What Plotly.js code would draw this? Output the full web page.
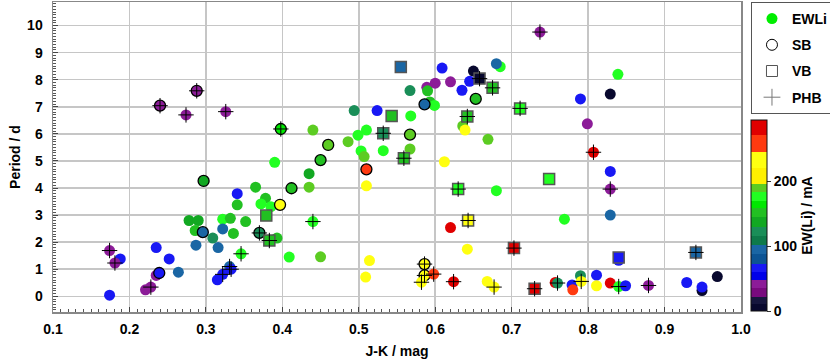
<!DOCTYPE html>
<html>
<head>
<meta charset="utf-8">
<script src="https://cdn.plot.ly/plotly-3.0.1.min.js"></script>
<style>html,body{margin:0;padding:0;background:#fff}#chart{width:830px;height:363px}</style>
</head>
<body>
<div id="chart"></div>
<script>
// ---- data ----
const jk = [0.240,0.274,0.288,0.326,0.398,0.390,0.297,0.555,0.609,0.650,0.685,0.680,0.658,0.645,0.620,0.600,0.589,0.590,0.675,0.635,0.567,0.653,0.593,0.599,0.586,0.711,0.494,0.524,0.543,0.568,0.642,0.636,0.639,0.440,0.532,0.567,0.510,0.499,0.486,0.460,0.669,0.503,0.532,0.567,0.507,0.559,0.450,0.612,0.435,0.510,0.737,0.839,0.829,0.790,0.799,0.807,0.829,0.749,0.341,0.365,0.412,0.378,0.372,0.385,0.341,0.397,0.379,0.322,0.332,0.278,0.290,0.352,0.286,0.296,0.322,0.336,0.370,0.309,0.383,0.393,0.287,0.316,0.235,0.346,0.409,0.174,0.188,0.181,0.252,0.264,0.235,0.239,0.331,0.333,0.322,0.315,0.228,0.221,0.174,0.435,0.510,0.630,0.680,0.643,0.440,0.620,0.642,0.703,0.450,0.514,0.586,0.509,0.586,0.598,0.582,0.624,0.668,0.677,0.829,0.829,0.769,0.941,0.840,0.840,0.730,0.757,0.760,0.779,0.780,0.790,0.791,0.811,0.811,0.829,0.840,0.849,0.879,0.929,0.949,0.949,0.969];
const period = [7.04,6.70,7.59,6.82,6.18,4.95,4.26,8.47,8.43,8.32,8.48,8.59,8.04,7.94,7.92,7.87,7.72,7.59,7.70,7.61,7.60,7.29,7.18,7.05,7.09,6.94,6.86,6.86,6.66,6.66,6.64,6.29,6.14,6.14,6.02,5.97,6.14,5.95,5.71,5.59,5.80,5.37,5.38,5.44,5.16,5.10,5.03,4.97,4.53,4.69,9.76,8.20,7.47,7.29,6.37,5.32,4.61,4.33,3.79,4.03,3.99,3.62,3.41,3.31,3.38,3.38,2.98,2.85,2.88,2.80,2.80,2.76,2.43,2.37,2.49,2.32,2.34,2.15,2.06,2.15,1.89,1.80,1.80,1.57,1.45,1.69,1.38,1.23,1.38,0.89,0.77,0.86,1.10,1.00,0.81,0.61,0.34,0.24,0.04,4.03,4.08,3.96,3.90,2.80,2.76,2.54,1.74,1.78,1.46,1.32,1.19,0.71,0.77,0.82,0.52,0.54,0.55,0.34,3.96,3.00,2.85,1.62,1.33,1.43,0.28,0.51,0.49,0.42,0.24,0.76,0.55,0.78,0.39,0.49,0.36,0.39,0.40,0.51,0.21,0.34,0.73];
const ewLi = [35,35,35,35,165,170,140,88,60,10,170,88,10,60,35,35,35,145,145,60,115,145,145,170,88,170,115,60,145,170,150,190,222,190,115,190,170,170,190,190,190,170,170,190,190,145,145,222,132,258,35,170,10,60,35,282,60,170,60,145,145,150,170,170,145,222,145,170,145,130,130,145,145,88,88,145,115,115,145,145,88,88,60,170,170,35,60,35,60,88,35,60,88,60,60,60,35,35,60,190,222,170,170,222,170,282,222,282,190,222,222,222,222,258,222,282,222,222,35,88,170,88,60,60,282,282,115,60,258,115,222,60,222,282,170,60,35,60,10,60,10];
const isSB  = [1,0,1,0,1,0,1,0,0,0,0,0,0,0,0,0,0,0,0,0,0,1,0,0,1,0,0,0,0,0,0,0,0,0,0,1,0,0,0,1,0,0,0,0,0,0,1,0,0,1,0,0,0,0,0,0,0,0,0,0,1,0,0,0,0,1,0,0,0,0,0,0,0,1,0,0,1,0,0,0,0,0,0,0,0,0,0,0,0,0,0,1,0,0,0,0,0,0,0,0,0,0,0,0,0,0,0,0,0,0,1,0,1,0,0,0,0,0,0,0,0,0,0,0,0,0,0,0,0,0,0,0,0,0,0,0,0,0,0,0,0];
const isVB  = [0,0,0,0,0,0,0,1,0,0,0,0,1,0,0,0,0,0,1,0,0,0,0,0,0,1,0,0,1,0,1,0,0,0,1,0,0,0,0,0,0,0,0,0,0,1,0,0,0,0,0,0,0,0,0,0,0,1,0,0,0,0,0,0,0,0,1,0,0,0,0,0,0,0,0,0,0,0,1,0,0,0,0,0,0,0,0,0,0,0,0,0,0,0,0,0,0,0,0,0,0,1,0,1,0,0,0,1,0,0,0,0,0,0,0,0,0,0,0,0,0,1,0,1,1,0,0,0,0,0,0,0,0,0,0,0,0,0,0,0,0];
const isPHB = [1,1,1,1,1,0,0,0,0,0,0,0,1,0,0,0,0,0,1,0,0,0,0,0,0,1,0,0,0,0,1,0,0,0,1,0,0,0,0,0,0,0,0,0,0,1,0,0,0,0,1,0,0,0,0,1,0,0,0,0,0,0,0,0,0,0,0,0,0,0,0,0,0,0,0,0,1,0,1,0,0,0,0,1,0,1,0,1,0,0,0,0,1,1,1,0,1,0,0,0,0,1,0,1,1,0,0,1,0,0,1,0,1,1,1,1,0,1,1,0,0,1,0,0,1,0,1,0,0,0,1,0,0,0,1,0,1,0,0,0,0];

// colour bar bands (EW(Li) / mA)
const bandEdges  = [0,11,22,35,48,60,73,87,101,115,130,144,158,170,183,196,220,245,271,294];
const bandColors = ['#08082e','#16163e','#780a7e','#8c1c98','#0000e8','#1818f4','#0c5494','#1a66a4','#0e7a4a','#1a8e58','#12a822','#22c022','#00e800','#22ff22','#5ccc22','#fff000','#ffff10','#ff3a10','#e00000'];
const cbTicks = [0,100,200];

// ---- build ----
const cmax = bandEdges[bandEdges.length-1];
const colorscale = [];
for (let i = 0; i < bandColors.length; i++) {
  colorscale.push([bandEdges[i]/cmax, bandColors[i]]);
  colorscale.push([bandEdges[i+1]/cmax, bandColors[i]]);
}
const pick = (arr, cond) => arr.filter((_, i) => cond(i));
const circ = i => !isVB[i], sq = i => isVB[i], plus = i => isPHB[i];

const FONT = 'Liberation Sans, Arial, sans-serif';
const traces = [
  {
    type: 'scatter', mode: 'markers', showlegend: false, hoverinfo: 'skip',
    x: pick(jk, circ), y: pick(period, circ),
    marker: {
      symbol: 'circle', size: 11,
      color: pick(ewLi, circ), colorscale: colorscale, cmin: 0, cmax: cmax,
      line: { color: 'black', width: pick(isSB, circ).map(v => v ? 1.3 : 0) },
      showscale: true,
      colorbar: {
        x: 1.0145, xanchor: 'left', xpad: 0, y: 0.003, yanchor: 'bottom', ypad: 0,
        thickness: 16, len: 191, lenmode: 'pixels',
        outlinecolor: '#111', outlinewidth: 1,
        tickvals: cbTicks, ticks: 'outside', ticklen: 4, tickcolor: '#333',
        tickfont: { family: FONT, size: 14, color: '#000', weight: 'bold' },
        title: { text: 'EW(Li) / mA', side: 'right', font: { family: FONT, size: 14, color: '#000', weight: 'bold' } }
      }
    }
  },
  {
    type: 'scatter', mode: 'markers', showlegend: false, hoverinfo: 'skip',
    x: pick(jk, sq), y: pick(period, sq),
    marker: {
      symbol: 'square', size: 11,
      color: pick(ewLi, sq), colorscale: colorscale, cmin: 0, cmax: cmax, showscale: false,
      line: { color: '#555', width: 1.5 }
    }
  },
  {
    type: 'scatter', mode: 'markers', showlegend: false, hoverinfo: 'skip',
    x: pick(jk, plus), y: pick(period, plus),
    marker: { symbol: 'cross-thin', size: 11, line: { color: '#000', width: 1 } }
  },
  // legend entries
  { type: 'scatter', mode: 'markers', name: 'EWLi', legendgroup: 'a', x: [null], y: [null],
    marker: { symbol: 'circle', size: 11, color: '#00ee00' } },
  { type: 'scatter', mode: 'markers', name: 'SB', legendgroup: 'b', x: [null], y: [null],
    marker: { symbol: 'circle-open', size: 11, color: '#000', line: { width: 1 } } },
  { type: 'scatter', mode: 'markers', name: 'VB', legendgroup: 'c', x: [null], y: [null],
    marker: { symbol: 'square-open', size: 11, color: '#555', line: { width: 1 } } },
  { type: 'scatter', mode: 'markers', name: 'PHB', legendgroup: 'd', x: [null], y: [null],
    marker: { symbol: 'cross-thin-open', size: 12, color: '#777', line: { width: 1, color: '#777' } } }
];

const axisCommon = {
  showline: true, linecolor: '#888', linewidth: 1.5, mirror: true,
  showgrid: true, gridcolor: '#c6c6c6', gridwidth: 1.5, zeroline: false,
  ticks: 'inside', ticklen: 5, tickcolor: '#444',
  tickfont: { family: FONT, size: 14, color: '#000', weight: 'bold' }
};
const layout = {
  width: 830, height: 363,
  margin: { l: 53, r: 89, t: 2, b: 51, autoexpand: false },
  paper_bgcolor: '#fff', plot_bgcolor: '#fff',
  font: { family: FONT, size: 14, color: '#000' },
  xaxis: Object.assign({}, axisCommon, {
    range: [0.1, 1.0], dtick: 0.1, tick0: 0.1, tickformat: '.1f', ticklabelstandoff: 4,
    minor: { dtick: 0.01, ticks: 'inside', ticklen: 3, tickcolor: '#555', showgrid: false },
    title: { text: 'J-K / mag', standoff: 10, font: { family: FONT, size: 14, color: '#000', weight: 'bold' } }
  }),
  yaxis: Object.assign({}, axisCommon, {
    range: [-0.58, 10.87], dtick: 1, tick0: 0, ticklabelstandoff: 6,
    minor: { dtick: 0.1, ticks: 'inside', ticklen: 3, tickcolor: '#555', showgrid: false },
    title: { text: 'Period / d', standoff: 3, font: { family: FONT, size: 14, color: '#000', weight: 'bold' } }
  }),
  showlegend: true,
  legend: {
    x: 1.0145, xanchor: 'left', y: 1.0, yanchor: 'top',
    bordercolor: '#555', borderwidth: 1, bgcolor: '#fff',
    tracegroupgap: 5, itemwidth: 30,
    font: { family: FONT, size: 14, color: '#000', weight: 'bold' }
  }
};
Plotly.newPlot('chart', traces, layout, { staticPlot: true, displayModeBar: false });
</script>
</body>
</html>
